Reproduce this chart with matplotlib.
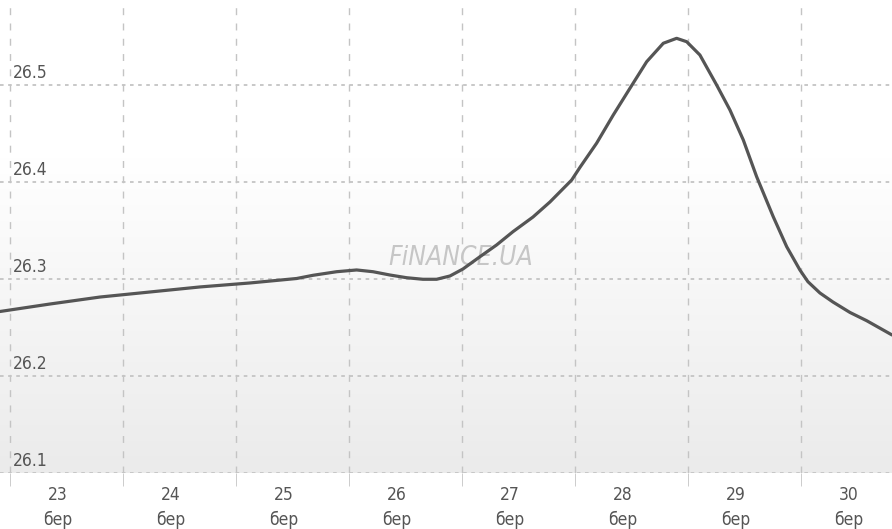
import numpy as np
import matplotlib.pyplot as plt
import matplotlib.transforms as mtransforms
from matplotlib.colors import LinearSegmentedColormap

# курс по днях березня (дробова частина = час доби)
days = [22.487, 22.929, 23.372, 23.814, 24.257, 24.699, 25.112, 25.257, 25.466, 25.643,
        25.788, 25.938, 26.086, 26.230, 26.351, 26.469, 26.584, 26.735, 26.882, 27.027,
        27.204, 27.354, 27.546, 27.619, 27.767, 27.914, 28.062, 28.210, 28.357, 28.475,
        28.564, 28.681, 28.829, 28.947, 29.065, 29.183, 29.330, 29.449, 29.566, 29.637,
        29.743, 29.858, 30.009, 30.157, 30.381]
rate = [26.2665, 26.2742, 26.2814, 26.2866, 26.2918, 26.2959, 26.3005, 26.3038, 26.3075, 26.3093,
        26.3075, 26.3041, 26.3013, 26.2997, 26.2997, 26.3031, 26.3103, 26.3230, 26.3351, 26.3488,
        26.3639, 26.3794, 26.4020, 26.4150, 26.4400, 26.4690, 26.4966, 26.5240, 26.5430, 26.5481,
        26.5446, 26.5309, 26.5000, 26.4742, 26.4433, 26.4055, 26.3642, 26.3333, 26.3093, 26.2972,
        26.2856, 26.2763, 26.2655, 26.2570, 26.2423]

tick_days = [23, 24, 25, 26, 27, 28, 29, 30]
tick_labels = [f"{d}\nбер" for d in tick_days]
y_ticks = [26.1, 26.2, 26.3, 26.4, 26.5]
grid_days = [22.575 + i for i in range(8)]

plt.rcParams['font.family'] = ['DejaVu Sans']
txt_font = dict(family='DejaVu Sans', stretch='condensed')

fig = plt.figure(figsize=(8.92, 5.29), dpi=100)
ax = fig.add_axes([0, 56 / 529, 1, 473 / 529])
ax.set_xlim(22.487, 30.381)
ax.set_ylim(26.1, 26.5876)

# фон з градієнтом
cmap = LinearSegmentedColormap.from_list('bg', ['#ebebeb', '#f5f5f5', '#ffffff', '#ffffff'])
grad = np.linspace(0, 1, 256).reshape(-1, 1)
ax.imshow(grad, extent=[0, 1, 0, 1], transform=ax.transAxes, cmap=cmap,
          aspect='auto', origin='lower', zorder=0)

# сітка
for gd in grid_days:
    ax.axvline(gd, color='#c4c4c4', lw=1, ls=(0, (5, 6)), zorder=1)
for yv in y_ticks:
    ax.axhline(yv, color='#c4c4c4', lw=1.3, ls=(0, (2, 2.5)), zorder=1)

# водяний знак
ax.text(0.517, 0.455, 'FiNANCE.UA', transform=ax.transAxes, ha='center', va='center',
        fontsize=19, style='italic', color='#c6c6c6', zorder=2, **txt_font)

ax.plot(days, rate, color='#555555', lw=2.3, solid_capstyle='round',
        solid_joinstyle='round', zorder=3)

# підписи осі Y всередині
trans = mtransforms.blended_transform_factory(ax.transAxes, ax.transData)
for yv in y_ticks:
    ax.text(13 / 892, yv + 0.0035, f"{yv:.1f}", transform=trans, ha='left', va='bottom',
            fontsize=12.5, color='#555555', zorder=4, **txt_font)

ax.set_xticks(tick_days)
ax.set_xticklabels(tick_labels, fontsize=12.5, color='#555555', linespacing=1.5, **txt_font)
ax.tick_params(axis='x', length=0, pad=9)
ax.set_xticks(grid_days, minor=True)
ax.tick_params(axis='x', which='minor', length=9, color='#c4c4c4', direction='out')
ax.set_yticks([])
for s in ax.spines.values():
    s.set_visible(False)

fig.savefig('out.png', dpi=100)
plt.close(fig)
